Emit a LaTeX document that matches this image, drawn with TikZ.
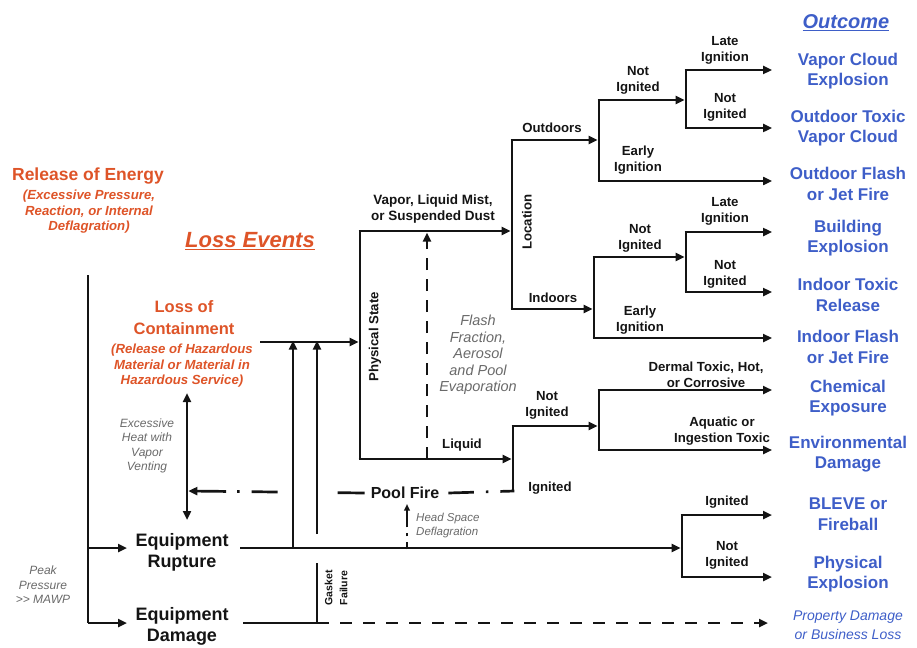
\documentclass[tikz,border=0pt]{standalone}
\usepackage{fontspec}
\setmainfont{Liberation Sans}
\usetikzlibrary{arrows.meta}

\definecolor{lossred}{RGB}{222,84,40}
\definecolor{outblue}{RGB}{62,94,200}
\definecolor{notegray}{RGB}{105,105,105}
\definecolor{ink}{RGB}{20,20,20}

\newcommand{\fs}[2]{\fontsize{#1}{#2}\selectfont}

\tikzset{
  tip/.tip={Triangle[length=9pt,width=8pt]},
  smalltip/.tip={Triangle[length=6.5pt,width=5.5pt]},
  ln/.style={line width=2.7pt, draw=ink},
  arr/.style={ln, -tip},
  darr/.style={ln, tip-tip},
  txt/.style={inner sep=0pt, align=center, text=ink},
  lbl/.style={txt, font=\bfseries\fs{13.2}{16}},
  mainlbl/.style={txt, font=\bfseries\fs{18}{21}},
  headlbl/.style={txt, text=lossred, font=\bfseries\fs{17.5}{22}},
  headsub/.style={txt, text=lossred, font=\bfseries\itshape\fs{13.2}{15.5}},
  outlbl/.style={txt, text=outblue, font=\bfseries\fs{17}{20.5}},
  notelbl/.style={txt, text=notegray, font=\itshape\fs{12}{14.5}},
  vlbl/.style={lbl, rotate=90},
}

\begin{document}
\begin{tikzpicture}[x=1pt, y=-1pt]
\useasboundingbox (0,0) rectangle (917,647);

% ---------- headings ----------
\node[headlbl] (energy) at (88,176) {Release of Energy};
\node[headsub] (energysub) at (89,212) {(Excessive Pressure,\\Reaction, or Internal\\Deflagration)};
\node[txt, text=lossred, font=\bfseries\itshape\fs{22}{26}] (events) at (250,241) {\underline{Loss Events}};
\node[txt, text=outblue, font=\bfseries\itshape\fs{20}{24}] (outcome) at (846,23) {\underline{Outcome}};

% ---------- loss events ----------
\node[headlbl, font=\bfseries\fs{16.5}{22}] (contain) at (184,318) {Loss of\\Containment};
\node[headsub] (containsub) at (182,366) {(Release of Hazardous\\Material or Material in\\Hazardous Service)};
\node[mainlbl] (rupture) at (182,552) {Equipment\\Rupture};
\node[mainlbl] (damage) at (182,626) {Equipment\\Damage};

% ---------- notes ----------
\node[notelbl] (peak) at (43,585) {Peak\\Pressure\\>{}> MAWP};
\node[notelbl] (heat) at (147,446) {Excessive\\Heat with\\Vapor\\Venting};
\node[notelbl, font=\itshape\fs{14.5}{16.5}] (flash) at (478,355) {Flash\\Fraction,\\Aerosol\\and Pool\\Evaporation};
\node[notelbl, font=\itshape\fs{11.5}{14}, align=left, anchor=west] (headspace) at (416,526) {Head Space\\Deflagration};
\node[vlbl, font=\bfseries\fs{10.5}{15}] (gasket) at (336,588) {Gasket\\Failure};

% ---------- branch labels ----------
\node[vlbl] (physstate) at (375,337) {Physical State};
\node[vlbl] (location) at (527,222) {Location};
\node[lbl, font=\bfseries\fs{13.5}{16}] (vapor) at (433,209) {Vapor, Liquid Mist,\\or Suspended Dust};
\node[lbl] (liquid) at (462,445) {Liquid};
\node[lbl] (outdoors) at (552,128) {Outdoors};
\node[lbl] (indoors) at (553,298) {Indoors};
\node[lbl] (oni) at (638,80) {Not\\Ignited};
\node[lbl] (oei) at (638,160) {Early\\Ignition};
\node[lbl] (oli) at (725,50) {Late\\Ignition};
\node[lbl] (onn) at (725,107) {Not\\Ignited};
\node[lbl] (ini) at (640,238) {Not\\Ignited};
\node[lbl] (iei) at (640,320) {Early\\Ignition};
\node[lbl] (ili) at (725,211) {Late\\Ignition};
\node[lbl] (inn) at (725,274) {Not\\Ignited};
\node[lbl] (lni) at (547,405) {Not\\Ignited};
\node[lbl] (lig) at (550,488) {Ignited};
\node[lbl] (dermal) at (706,375) {Dermal Toxic, Hot,\\or Corrosive};
\node[lbl] (aquatic) at (722,431) {Aquatic or\\Ingestion Toxic};
\node[lbl] (rig) at (727,502) {Ignited};
\node[lbl] (rni) at (727,555) {Not\\Ignited};
\node[mainlbl, font=\bfseries\fs{16}{20}] (pool) at (405,493) {Pool Fire};

% ---------- outcomes ----------
\node[outlbl] (o1) at (848,71) {Vapor Cloud\\Explosion};
\node[outlbl] (o2) at (848,128) {Outdoor Toxic\\Vapor Cloud};
\node[outlbl] (o3) at (848,184) {Outdoor Flash\\or Jet Fire};
\node[outlbl] (o4) at (848,238) {Building\\Explosion};
\node[outlbl] (o5) at (848,295) {Indoor Toxic\\Release};
\node[outlbl] (o6) at (848,347) {Indoor Flash\\or Jet Fire};
\node[outlbl] (o7) at (848,398) {Chemical\\Exposure};
\node[outlbl] (o8) at (848,454) {Environmental\\Damage};
\node[outlbl] (o9) at (848,514) {BLEVE or\\Fireball};
\node[outlbl] (o10) at (848,574) {Physical\\Explosion};
\node[outlbl, font=\itshape\fs{14}{18.5}] (o11) at (848,625) {Property Damage\\or Business Loss};

% ---------- junction points ----------
\coordinate (lvtop) at (88,275);
\coordinate (lvrup) at (88,548);
\coordinate (lvdam) at (88,623);
\coordinate (rupin) at (127,548);
\coordinate (damin) at (127,623);
\coordinate (dtop) at (187,393);
\coordinate (dbot) at (187,520);
\coordinate (cout) at (260,342);
\coordinate (psin) at (360,342);
\coordinate (pstop) at (360,231);
\coordinate (psbot) at (360,459);
\coordinate (rupout) at (240,548);
\coordinate (damout) at (243,623);
\coordinate (v1bot) at (293,548);
\coordinate (v1top) at (293,342);
\coordinate (v2bot) at (317,623);
\coordinate (v2gapb) at (317,563);
\coordinate (v2gapt) at (317,534);
\coordinate (v2top) at (317,342);
\coordinate (bfork) at (682,548);
\coordinate (loctop) at (512,140);
\coordinate (locmid) at (512,231);
\coordinate (locbot) at (512,309);
\coordinate (ofork) at (599,140);
\coordinate (ifork) at (594,309);
\coordinate (onfork) at (686,100);
\coordinate (infork) at (686,257);
\coordinate (lqfork) at (513,459);
\coordinate (lqtop) at (513,426);
\coordinate (lqbot) at (513,491);
\coordinate (cfork) at (599,426);
\coordinate (hsbot) at (407,548);
\coordinate (heatin) at (187,491);
\coordinate (flbot) at (427,459);
\coordinate (fltop) at (427,234);
\coordinate (endx) at (772,0);

% ---------- left trunk ----------
\draw[ln] (lvtop) -- (lvdam);
\draw[arr] (lvrup) -- (rupin);
\draw[arr] (lvdam) -- (damin);
\draw[darr] (dtop) -- (dbot);

% ---------- loss of containment to physical state ----------
\draw[arr] (cout) -- ([xshift=-1.3pt]psin);
\draw[arr] (v1bot) -- ([yshift=1.3pt]v1top);
\draw[ln] (v2bot) -- (v2gapb);
\draw[arr] (v2gapt) -- ([yshift=1.3pt]v2top);
\draw[ln] (pstop) -- (psbot);
\draw[arr] ([xshift=-1.35pt]pstop) -- ([xshift=-1.3pt]locmid);
\draw[arr] ([xshift=-1.35pt]psbot) -- ([xshift=-1.3pt]lqfork);
\draw[ln, dash pattern=on 12pt off 9pt, -tip] (flbot) -- ([yshift=1.3pt]fltop);

% ---------- location ----------
\draw[ln] (loctop) -- (locbot);
\draw[arr] ([xshift=-1.35pt]loctop) -- ([xshift=-1.3pt]ofork);
\draw[arr] ([xshift=-1.35pt]locbot) -- ([xshift=-1.3pt]ifork);

% outdoors
\draw[ln] (599,100) -- (599,181);
\draw[arr] (597.65,100) -- ([xshift=-1.3pt]onfork);
\draw[arr] (597.65,181) -- (endx |- 0,181);
\draw[ln] (686,70) -- (686,128);
\draw[arr] (684.65,70) -- (endx |- 0,70);
\draw[arr] (684.65,128) -- (endx |- 0,128);

% indoors
\draw[ln] (594,257) -- (594,338);
\draw[arr] (592.65,257) -- ([xshift=-1.3pt]infork);
\draw[arr] (592.65,338) -- (endx |- 0,338);
\draw[ln] (686,232) -- (686,292);
\draw[arr] (684.65,232) -- (endx |- 0,232);
\draw[arr] (684.65,292) -- (endx |- 0,292);

% ---------- liquid ----------
\draw[ln] (lqtop) -- (lqbot);
\draw[arr] ([xshift=-1.35pt]lqtop) -- ([xshift=-1.3pt]cfork);
\draw[ln] (599,390) -- (599,450);
\draw[arr] (597.65,390) -- (endx |- 0,390);
\draw[arr] (597.65,450) -- (endx |- 0,450);

% pool fire feedback (dash-dot)
\draw[ln, dash pattern=on 14pt off 12pt on 2.5pt off 12pt on 40pt] ([xshift=1.35pt]lqbot) -- ([xshift=9pt]pool.east);
\draw[ln, dash pattern=on 27pt off 60pt on 26pt off 12pt on 2.5pt off 11pt on 40pt, -tip]
      ([xshift=-6pt]pool.west) -- ([xshift=1.3pt]heatin);

% head space deflagration
\draw[line width=1.6pt, draw=ink, dash pattern=on 7pt off 6pt on 3pt off 6pt on 40pt, -smalltip]
      ([yshift=-1.3pt]hsbot) -- (407,504);

% ---------- rupture and damage ----------
\draw[arr] (rupout) -- ([xshift=-1.3pt]bfork);
\draw[ln] (682,515) -- (682,577);
\draw[arr] (680.65,515) -- (endx |- 0,515);
\draw[arr] (680.65,577) -- (endx |- 0,577);
\draw[ln] (damout) -- (v2bot);
\draw[ln, dash pattern=on 12pt off 11pt, -tip] (v2bot) -- (768,623);

\end{tikzpicture}
\end{document}
